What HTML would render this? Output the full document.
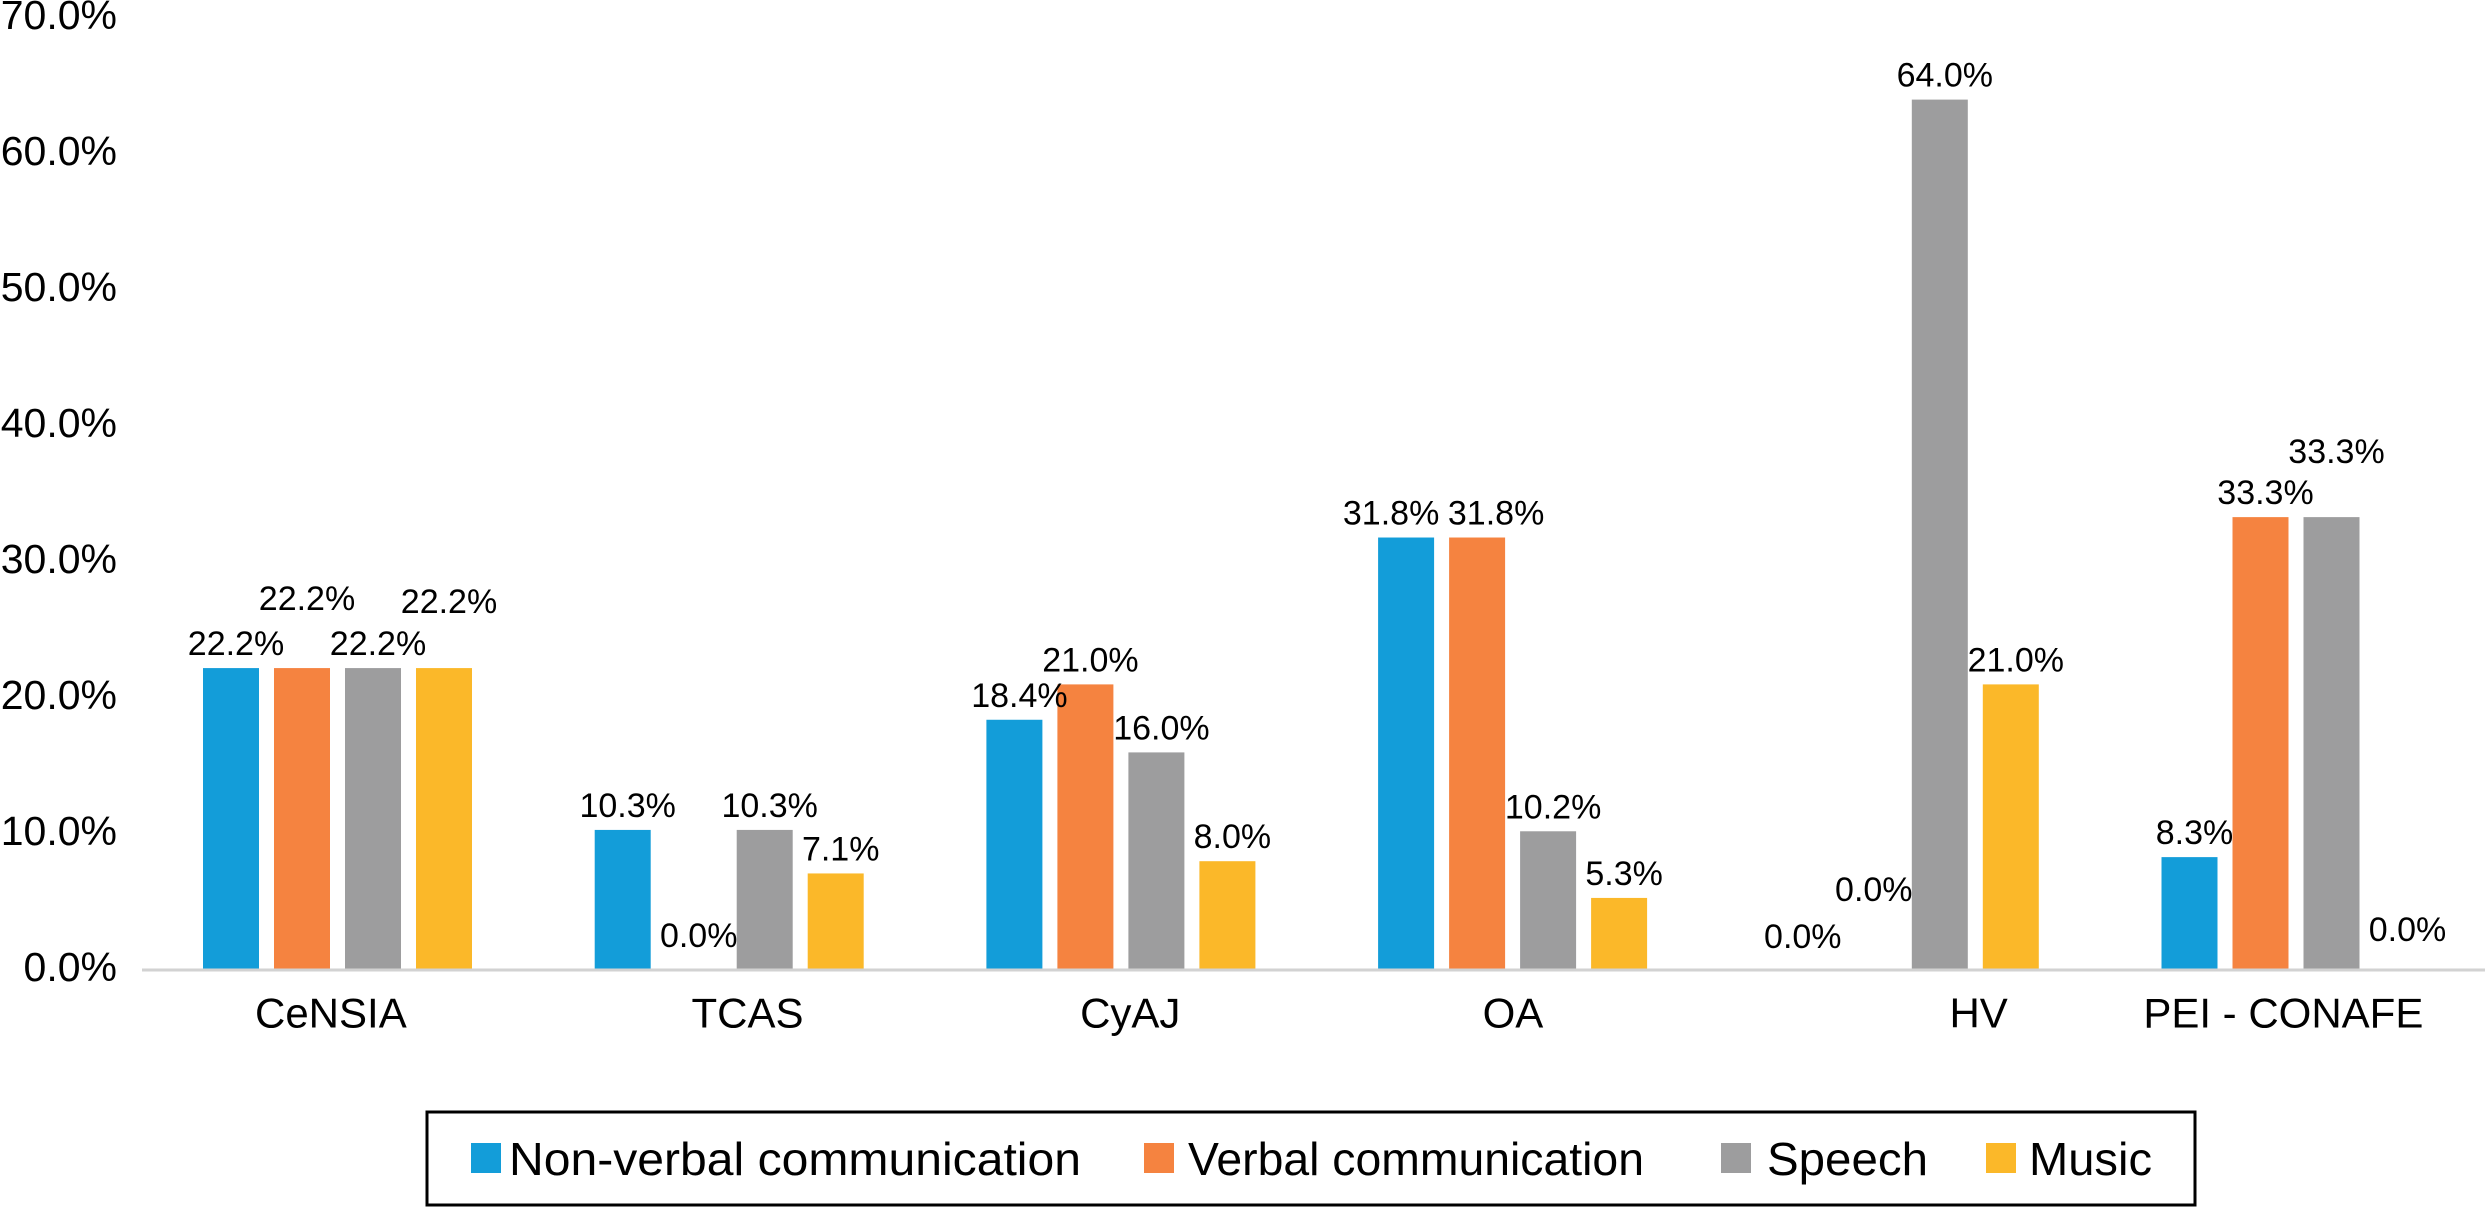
<!DOCTYPE html>
<html><head><meta charset="utf-8"><style>
html,body{margin:0;padding:0;background:#fff;}
svg{display:block;font-family:"Liberation Sans",Arial,sans-serif;}
</style></head><body>
<svg id="chart" width="2492" height="1208" viewBox="0 0 2492 1208" xmlns="http://www.w3.org/2000/svg">
<g id="yaxis"></g>
<g id="bars"></g>
<g id="vlabels"></g>
<g id="xaxis"></g>
<g id="legend"></g>
</svg>
<script>
const categories = ["CeNSIA","TCAS","CyAJ","OA","HV","PEI - CONAFE"];
const seriesNames = ["Non-verbal communication","Verbal communication","Speech","Music"];
const nonVerbal = [22.2,10.3,18.4,31.8,0.0,8.3];
const verbal = [22.2,0.0,21.0,31.8,0.0,33.3];
const speech = [22.2,10.3,16.0,10.2,64.0,33.3];
const music = [22.2,7.1,8.0,5.3,21.0,0.0];
const yTicks = [0,10,20,30,40,50,60,70];
const yTickLabels = ["0.0%","10.0%","20.0%","30.0%","40.0%","50.0%","60.0%","70.0%"];

const series = [nonVerbal, verbal, speech, music];
const colors = ["#139DD9","#F58340","#9D9D9E","#FBB829"];
// label nudges (overlap avoidance) per series/category
const labelDy = [[0,0,0,0,-9,0],[-45,-10,0,0,-56,0],[0,0,0,0,0,-41],[-42,0,0,0,0,-16]];
const labelDx = [[0,0,0,-20,0,0],[0,0,0,14,0,0],[0,0,0,0,0,0],[0,0,0,0,0,0]];
const catNudge = [-7,18,9,0,74,-13];

const NS = "http://www.w3.org/2000/svg";
const x0 = 142, groupW = 391.7, barOff = 61, barStep = 71, barW = 56;
const yBase = 970, pxPer = 13.6;
const yScale = v => yBase - v * pxPer;
const xBar = (c, s) => x0 + c * groupW + barOff + s * barStep;
const xCat = c => x0 + (c + 0.5) * groupW;
function mk(tag, attrs, parent, text) {
  const e = document.createElementNS(NS, tag);
  for (const k in attrs) e.setAttribute(k, attrs[k]);
  if (text !== undefined) e.textContent = text;
  parent.appendChild(e);
  return e;
}
const yaxis = document.getElementById('yaxis');
yTicks.forEach((t, i) => {
  const el = mk('text', {x: 117, y: yScale(t) - 3, 'text-anchor': 'end', 'dominant-baseline': 'central', 'font-size': 41, fill: '#000'}, yaxis, yTickLabels[i]);
  
  
});
const bars = document.getElementById('bars');
const vl = document.getElementById('vlabels');
series.forEach((vals, s) => {
  vals.forEach((v, c) => {
    const x = xBar(c, s);
    const r = mk('rect', {x: x, y: yScale(v), width: barW, height: Math.max(0, yBase - yScale(v)), fill: colors[s]}, bars);
    
    
    const t = mk('text', {x: x + barW / 2 + 5 + labelDx[s][c], y: yScale(v) - 24 + labelDy[s][c], 'text-anchor': 'middle', 'dominant-baseline': 'central', 'font-size': 34, fill: '#000'}, vl, v.toFixed(1) + '%');
    
    
  });
});
const xaxis = document.getElementById('xaxis');
const axl = mk('line', {x1: 142, y1: yBase, x2: 2485, y2: yBase, stroke: '#D2D2D2', 'stroke-width': 3}, xaxis);


categories.forEach((c, i) => {
  const t = mk('text', {x: xCat(i) + catNudge[i], y: 1013, 'text-anchor': 'middle', 'dominant-baseline': 'central', 'font-size': 42, fill: '#000'}, xaxis, c);
  
  
});
const lg = document.getElementById('legend');
const box = mk('rect', {x: 427, y: 1112, width: 1768, height: 93, fill: '#fff', stroke: '#000', 'stroke-width': 3}, lg);


const swX = [471, 1144, 1721, 1986];
const txX = [509, 1188, 1767, 2029];
const txW = [572, 456, 161, 123];
seriesNames.forEach((n, i) => {
  const g = mk('g', {}, lg);
  
  
  const sq = mk('rect', {x: swX[i], y: 1143, width: 30, height: 30, fill: colors[i]}, g);
  
  
  const t = mk('text', {x: txX[i], y: 1159, 'dominant-baseline': 'central', 'font-size': 46, fill: '#000', textLength: txW[i], lengthAdjust: 'spacingAndGlyphs'}, g, n);
  
  
});
</script>
</body></html>
